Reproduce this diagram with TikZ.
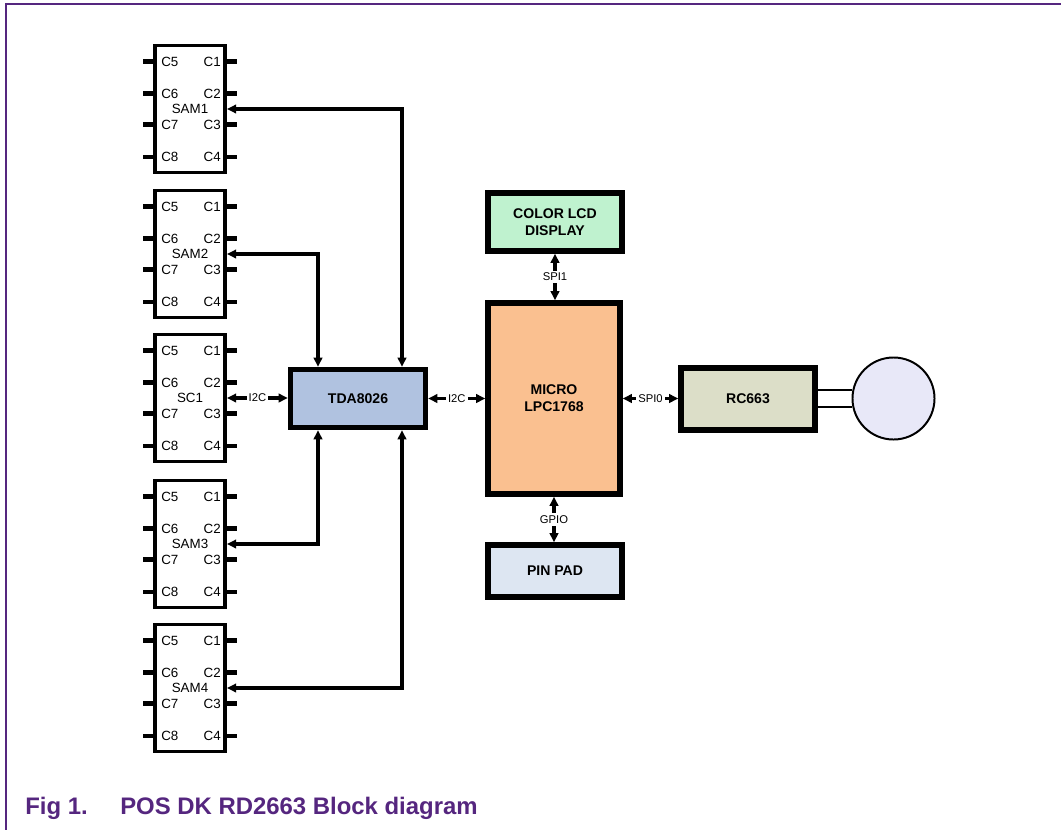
\documentclass[tikz,border=0pt]{standalone}
\usepackage{fontspec}
\setmainfont{Liberation Sans}
\usepackage{xcolor}
\usetikzlibrary{arrows.meta}

\definecolor{nxppurple}{HTML}{55267F}
\definecolor{tdafill}{HTML}{B0C2E0}
\definecolor{lcdfill}{HTML}{BFF2CF}
\definecolor{mcufill}{HTML}{FAC090}
\definecolor{padfill}{HTML}{DDE6F2}
\definecolor{rcfill}{HTML}{DCDEC8}
\definecolor{antfill}{HTML}{E8E8F8}

\tikzset{
  sambox/.style={draw,line width=2.8pt,minimum width=1.75cm,minimum height=3.175cm,inner sep=0pt},
  samlbl/.style={inner sep=0pt,font=\fontsize{9.5}{10}\selectfont},
  pinlbl/.style={inner sep=0pt,font=\fontsize{9.5}{10}\selectfont},
  pinline/.style={line width=3.4pt},
  blockbox/.style={draw,line width=3.8pt,inner sep=0pt,align=center,
    font=\fontsize{10}{12}\selectfont\bfseries},
  conn/.style={line width=2.3pt,<->,>={Triangle[length=6.5pt,width=6pt]}},
  lbl/.style={fill=white,inner sep=1.5pt,font=\fontsize{8}{9}\selectfont},
  coil/.style={line width=1.4pt},
  caption/.style={inner sep=0pt,text=nxppurple,font=\fontsize{17}{20}\selectfont\bfseries}
}

\begin{document}
\begin{tikzpicture}[x=0.025cm,y=-0.025cm]
\useasboundingbox (0,0) rectangle (1061,830);
\fill[white] (0,0) rectangle (1061,830);
\draw[nxppurple,line width=1.2pt] (1061,4) -- (6,4) -- (6,830);

% card sockets
\foreach \n/\y/\t in {samA/109/SAM1,samB/254/SAM2,samC/398/SC1,samD/544/SAM3,samE/688/SAM4}{
  \node[sambox] (\n) at (190,\y) {};
  \node[samlbl] (\n-name) at (190,\y) {\t};
  \foreach \dy/\l/\r in {-47.5/C5/C1,-15.5/C6/C2,15.5/C7/C3,48/C8/C4}{
    \pgfmathsetmacro\py{\y+\dy}
    \draw[pinline] (\n.west |- 0,\py) -- ++(-10,0);
    \draw[pinline] (\n.east |- 0,\py) -- ++(10,0);
    \node[pinlbl,anchor=west] (\n-\l) at (161,\py) {\l};
    \node[pinlbl,anchor=east] (\n-\r) at (221,\py) {\r};
  }
}

% blocks
\node[blockbox,fill=tdafill,minimum width=3.375cm,minimum height=1.45cm] (tda) at (358,398.5) {TDA8026};
\node[blockbox,fill=mcufill,minimum width=3.3cm,minimum height=4.775cm] (micro) at (554,398.5) {MICRO\\LPC1768};
\node[blockbox,fill=lcdfill,minimum width=3.35cm,minimum height=1.45cm] (lcd) at (555,222) {COLOR LCD\\DISPLAY};
\node[blockbox,fill=padfill,minimum width=3.35cm,minimum height=1.3cm] (pinpad) at (555,571) {PIN PAD};
\node[blockbox,fill=rcfill,minimum width=3.35cm,minimum height=1.55cm] (rc) at (748,399) {RC663};
\node[circle,draw,line width=1.4pt,fill=antfill,minimum size=2.05cm,inner sep=0pt] (ant) at (893.5,398.5) {};

% links
\draw[conn] (samA.east) -| (tda.north -| 402,0);
\draw[conn] (samB.east) -| (tda.north -| 318,0);
\draw[conn] (samC.east) -- (samC.east -| tda.west) node[lbl,midway] (i2cA) {I2C};
\draw[conn] (samD.east) -| (tda.south -| 318,0);
\draw[conn] (samE.east) -| (tda.south -| 402,0);
\draw[conn] (tda.east) -- (tda.east -| micro.west) node[lbl,midway] (i2cB) {I2C};
\draw[conn] (lcd.south) -- (lcd.south |- micro.north) node[lbl,midway] (spiA) {SPI1};
\draw[conn] (micro.south) -- (micro.south |- pinpad.north) node[lbl,midway] (gpio) {GPIO};
\draw[conn] (micro.east) -- (micro.east -| rc.west) node[lbl,midway] (spiB) {SPI0};
\draw[coil] (ant.168) -- (ant.168 -| rc.east);
\draw[coil] (ant.192) -- (ant.192 -| rc.east);

% caption
\node[caption,anchor=base west] (figno) at (25,814) {Fig 1.};
\node[caption,anchor=base west] (figtitle) at (120,814) {POS DK RD2663 Block diagram};
\end{tikzpicture}
\end{document}
